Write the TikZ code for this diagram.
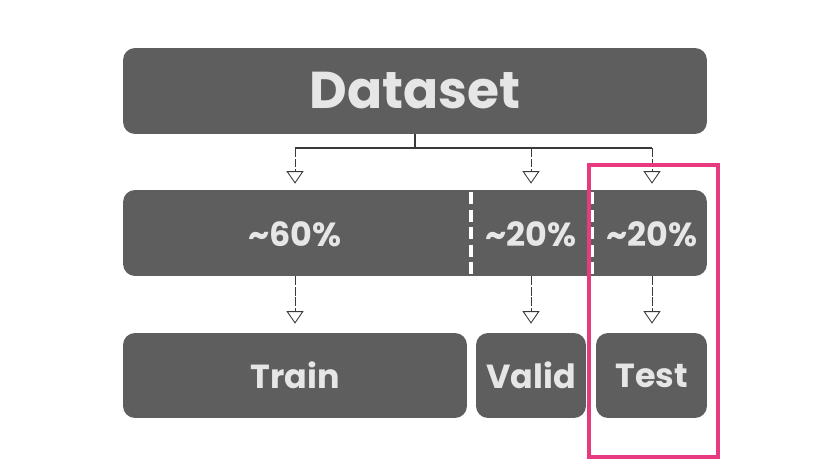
\documentclass[tikz,border=0pt]{standalone}
\usepackage{fontspec}
\setmainfont{Poppins}
\usetikzlibrary{arrows.meta}
\definecolor{boxgray}{HTML}{5E5E5E}
\definecolor{txtgray}{HTML}{E6E6E6}
\definecolor{linegray}{HTML}{3A3A3A}
\definecolor{hlpink}{HTML}{E83A7F}
\begin{document}
\begin{tikzpicture}[x=0.02cm,y=-0.02cm]
\tikzstyle{block}=[fill=boxgray,rounded corners=0.24cm,inner sep=0pt,text=txtgray,font=\bfseries]
\tikzstyle{pct}=[text=txtgray,font=\bfseries\fontsize{19}{21}\selectfont,inner sep=0pt]
\tikzstyle{arr}=[draw=linegray,line width=0.5pt,dash pattern=on 5pt off 1pt,-{Triangle[open,length=0.25cm,width=0.34cm]}]
\useasboundingbox (0,0) rectangle (828,466);
\node[block,minimum width=11.68cm,minimum height=1.72cm,font=\bfseries\fontsize{29.5}{34}\selectfont] (dataset) at (415,91) {Dataset};
\node[block,minimum width=11.68cm,minimum height=1.72cm] (split) at (415,233) {};
\draw[white,line width=1.8pt,dash pattern=on 7pt off 3pt] (471,192) -- (471,274);
\draw[white,line width=1.8pt,dash pattern=on 7pt off 3pt] (592,192) -- (592,274);
\node[pct] (p60) at (295,234) {\char`\~60\%};
\node[pct] (p20a) at (531,234) {\char`\~20\%};
\node[pct] (p20b) at (652,234) {\char`\~20\%};
\node[block,minimum width=6.88cm,minimum height=1.7cm,font=\bfseries\fontsize{19}{21}\selectfont] (train) at (295,375.5) {Train};
\node[block,minimum width=2.2cm,minimum height=1.7cm,font=\bfseries\fontsize{19}{21}\selectfont] (valid) at (531,375.5) {Valid};
\node[block,minimum width=2.22cm,minimum height=1.7cm,font=\bfseries\fontsize{19}{21}\selectfont] (test) at (651.5,375.5) {Test};
% split lines
\coordinate (fork) at (415,148);
\draw[linegray,line width=0.6pt] (dataset.south) -- (fork);
\draw[linegray,line width=0.6pt] (p60 |- fork) -- (p20b |- fork);
\draw[arr,shorten >=0.12cm] (p60 |- fork) -- (p60 |- split.north);
\draw[arr,shorten >=0.12cm] (p20a |- fork) -- (p20a |- split.north);
\draw[arr,shorten >=0.12cm] (p20b |- fork) -- (p20b |- split.north);
\draw[arr,shorten >=0.18cm] (p60 |- split.south) -- (train.north);
\draw[arr,shorten >=0.18cm] (p20a |- split.south) -- (valid.north);
\draw[arr,shorten >=0.18cm] (p20b |- split.south) -- (test.north -| p20b);
% highlight
\draw[hlpink,line width=1.8pt] (589,165) rectangle (718,457);
\end{tikzpicture}
\end{document}
